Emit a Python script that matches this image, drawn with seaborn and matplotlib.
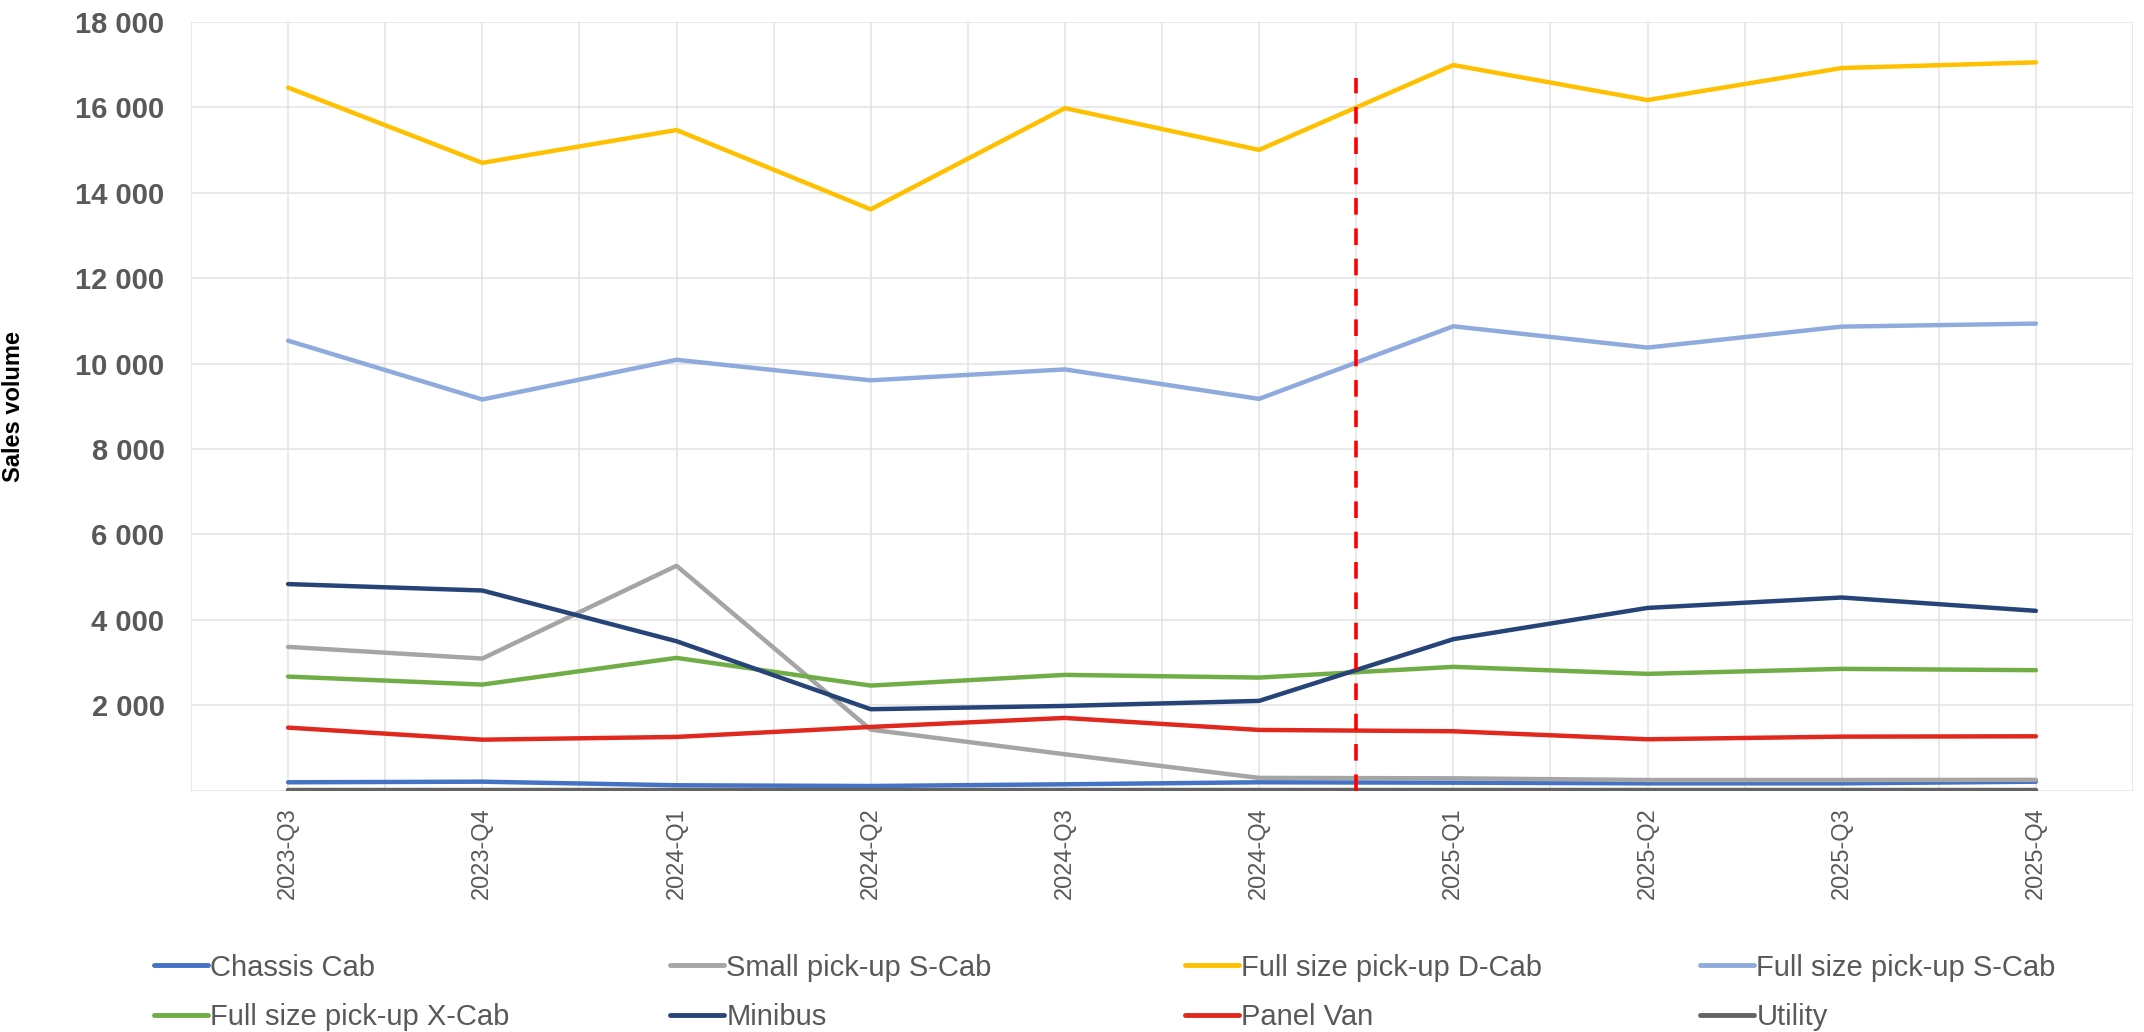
import matplotlib
matplotlib.use("Agg")
import matplotlib.pyplot as plt
from matplotlib.lines import Line2D
from matplotlib.ticker import FuncFormatter, MultipleLocator
import numpy as np
import pandas as pd
import seaborn as sns

# quarters on the x axis
quarters = ['2023-Q3', '2023-Q4', '2024-Q1', '2024-Q2', '2024-Q3',
            '2024-Q4', '2025-Q1', '2025-Q2', '2025-Q3', '2025-Q4']

# sales volume per vehicle type
chassis_cab = [197, 211, 127, 110, 150, 197, 188, 172, 172, 211]
small_pickup_scab = [3368, 3094, 5267, 1430, 853, 300, 290, 250, 250, 255]
full_pickup_dcab = [16464, 14702, 15470, 13613, 15983, 15005, 16992, 16172, 16922, 17055]
full_pickup_scab = [10538, 9161, 10090, 9609, 9865, 9175, 10875, 10376, 10867, 10938]
full_pickup_xcab = [2672, 2485, 3110, 2461, 2712, 2649, 2900, 2736, 2853, 2822]
minibus = [4838, 4688, 3500, 1908, 1985, 2103, 3548, 4280, 4524, 4212]
panel_van = [1477, 1195, 1259, 1493, 1704, 1423, 1392, 1204, 1266, 1274]
utility = [8, 8, 8, 8, 8, 8, 8, 8, 8, 8]

series = {
    'Chassis Cab': chassis_cab,
    'Small pick-up S-Cab': small_pickup_scab,
    'Full size pick-up D-Cab': full_pickup_dcab,
    'Full size pick-up S-Cab': full_pickup_scab,
    'Full size pick-up X-Cab': full_pickup_xcab,
    'Minibus': minibus,
    'Panel Van': panel_van,
    'Utility': utility,
}
colors = ['#4472C4', '#A5A5A5', '#FFC000', '#8FAADC',
          '#70AD47', '#264478', '#E0281E', '#636363']

# forecast split marker (between 2024-Q4 and 2025-Q1)
split_pos = 5.5
split_top = 16700

df = pd.DataFrame([
    {'quarter': q, 'type': name, 'volume': v}
    for name, vals in series.items()
    for q, v in zip(quarters, vals)
])
df['pos'] = df['quarter'].map({q: i for i, q in enumerate(quarters)})

sns.set_theme(style='white')
plt.rcParams['font.family'] = ['Liberation Sans', 'DejaVu Sans']

fig = plt.figure(figsize=(21.44, 10.32), dpi=100)
ax = fig.add_axes([191 / 2144, 1 - 790.7 / 1032, (2133 - 191) / 2144, (790.7 - 22) / 1032])

sns.lineplot(data=df, x='pos', y='volume', hue='type', hue_order=list(series),
             palette=colors, legend=False, ax=ax)
for line in ax.lines:
    line.set_linewidth(3.2)
    line.set_solid_capstyle('round')
    line.set_solid_joinstyle('round')

ax.vlines(split_pos, 0, split_top, colors='#FF0000', linewidth=2.6,
          linestyles=(0, (4.6, 3.8)), zorder=5)

ax.set_xlim(-0.5, len(quarters) - 0.5)
ax.set_ylim(0, 18000)
ax.set_xticks(range(len(quarters)))
ax.set_xticklabels(quarters, rotation=90, fontsize=17, color='#595959')
ax.xaxis.set_minor_locator(MultipleLocator(0.5))
ax.set_yticks(np.arange(2000, 18001, 2000))
ax.yaxis.set_major_formatter(FuncFormatter(lambda v, p: f'{int(v):,}'.replace(',', ' ')))
for t in ax.get_yticklabels():
    t.set_fontweight('bold')
    t.set_fontsize(21)
    t.set_color('#595959')
ax.tick_params(axis='both', which='both', length=0)
ax.tick_params(axis='y', pad=19)
ax.tick_params(axis='x', pad=12)

grid_kw = dict(color='#E3E3E3', linewidth=1.1, zorder=0)
for x in np.arange(-0.5, len(quarters) - 0.49, 0.5):
    ax.axvline(x, **grid_kw)
for y in np.arange(0, 18001, 2000):
    ax.axhline(y, **grid_kw)
ax.set_axisbelow(True)
for s in ax.spines.values():
    s.set_visible(False)

ax.set_xlabel('')
ax.set_ylabel('Sales volume', fontsize=17, fontweight='bold', color='black')
ax.yaxis.set_label_coords(-0.0855, 0.5)

# legend: 4 evenly spaced columns, 2 rows
names = list(series)
col_x = [154, 670, 1185, 1700]
for j, x0 in enumerate(col_x):
    handles = [Line2D([], [], color=colors[k], linewidth=3.5) for k in (j, j + 4)]
    leg = fig.legend(handles, [names[j], names[j + 4]], loc='center left',
                     bbox_to_anchor=(x0 / 2144, 1 - 992.5 / 1032),
                     frameon=False, fontsize=21, handlelength=1.85,
                     handletextpad=0.08, borderpad=0, borderaxespad=0,
                     labelspacing=0.75, labelcolor='#595959')

fig.savefig('out.png', dpi=100)
